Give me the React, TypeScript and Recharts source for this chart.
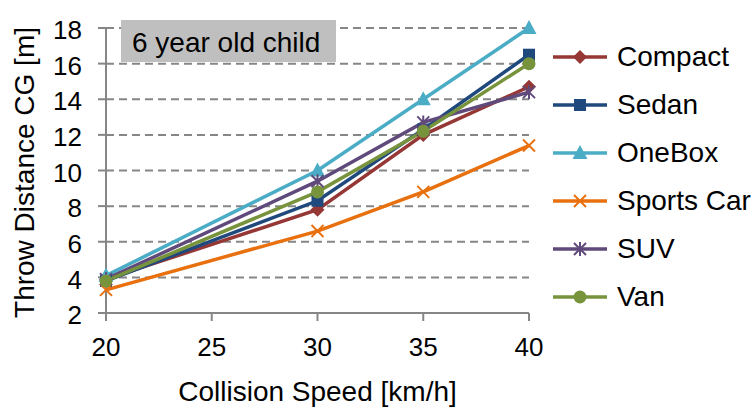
import React from 'react';
import { LineChart, Line, XAxis, YAxis, CartesianGrid } from 'recharts';

// Collision speeds (km/h) at which throw distances were measured
const speeds = [20, 30, 35, 40];

// Throw distance of the centre of gravity (m) per vehicle type
const compact = [3.9, 7.8, 12.0, 14.7];
const sedan = [3.8, 8.3, 12.3, 16.5];
const oneBox = [4.1, 10.0, 14.0, 18.0];
const sportsCar = [3.3, 6.6, 8.8, 11.4];
const suv = [3.9, 9.4, 12.7, 14.4];
const van = [3.8, 8.8, 12.2, 16.0];

const xTicks = [20, 25, 30, 35, 40];
const yTicks = [2, 4, 6, 8, 10, 12, 14, 16, 18];

type Shape = 'diamond' | 'square' | 'triangle' | 'x' | 'star' | 'circle';

const series: { key: string; name: string; values: number[]; color: string; shape: Shape }[] = [
  { key: 'compact', name: 'Compact', values: compact, color: '#953735', shape: 'diamond' },
  { key: 'sedan', name: 'Sedan', values: sedan, color: '#1F497D', shape: 'square' },
  { key: 'oneBox', name: 'OneBox', values: oneBox, color: '#4BACC6', shape: 'triangle' },
  { key: 'sportsCar', name: 'Sports Car', values: sportsCar, color: '#E8700F', shape: 'x' },
  { key: 'suv', name: 'SUV', values: suv, color: '#604A7B', shape: 'star' },
  { key: 'van', name: 'Van', values: van, color: '#77933C', shape: 'circle' },
];

const rows = speeds.map((speed, i) => {
  const row: Record<string, number> = { speed };
  series.forEach((s) => {
    row[s.key] = s.values[i];
  });
  return row;
});

const FONT = '"Liberation Sans", Arial, sans-serif';
const AXIS = '#868686';

function Marker({ cx, cy, color, shape }: { cx: number; cy: number; color: string; shape: Shape }) {
  switch (shape) {
    case 'diamond':
      return <polygon points={`${cx},${cy - 7} ${cx + 7},${cy} ${cx},${cy + 7} ${cx - 7},${cy}`} fill={color} />;
    case 'square':
      return <rect x={cx - 6} y={cy - 6} width={12} height={12} fill={color} />;
    case 'triangle':
      return <polygon points={`${cx},${cy - 8} ${cx + 7.5},${cy + 6} ${cx - 7.5},${cy + 6}`} fill={color} />;
    case 'x':
      return (
        <path
          d={`M${cx - 6},${cy - 6}L${cx + 6},${cy + 6}M${cx + 6},${cy - 6}L${cx - 6},${cy + 6}`}
          stroke={color}
          strokeWidth={2}
          fill="none"
        />
      );
    case 'star':
      return (
        <path
          d={`M${cx - 6},${cy - 6}L${cx + 6},${cy + 6}M${cx + 6},${cy - 6}L${cx - 6},${cy + 6}M${cx},${cy - 7}L${cx},${cy + 7}`}
          stroke={color}
          strokeWidth={2}
          fill="none"
        />
      );
    default:
      return <circle cx={cx} cy={cy} r={6.5} fill={color} />;
  }
}

function LegendBox() {
  return (
    <div style={{ position: 'absolute', left: 553, top: 33, fontFamily: FONT, fontSize: 28 }}>
      {series.map((s) => (
        <div key={s.key} style={{ display: 'flex', alignItems: 'center', height: 48 }}>
          <svg width={54} height={24} style={{ display: 'block' }}>
            <line x1={0} y1={12} x2={54} y2={12} stroke={s.color} strokeWidth={3.5} />
            <Marker cx={27} cy={12} color={s.color} shape={s.shape} />
          </svg>
          <span style={{ marginLeft: 10, color: '#000', whiteSpace: 'nowrap' }}>{s.name}</span>
        </div>
      ))}
    </div>
  );
}

export default function App() {
  return (
    <div style={{ position: 'absolute', left: 0, top: 0, width: 753, height: 409, background: '#fff' }}>
      <LineChart width={753} height={409} data={rows} margin={{ top: 28, right: 224, bottom: 0, left: 0 }}>
        <CartesianGrid vertical={false} stroke={AXIS} strokeWidth={2} strokeDasharray="8 5" />
        <XAxis
          dataKey="speed"
          type="number"
          domain={[20, 40]}
          ticks={xTicks}
          height={96}
          stroke={AXIS}
          strokeWidth={2}
          tickSize={8}
          tickMargin={17}
          tick={{ fill: '#000', fontSize: 26, fontFamily: FONT }}
          label={{
            value: 'Collision Speed [km/h]',
            position: 'insideBottom',
            offset: 8,
            fill: '#000',
            fontSize: 28,
            fontFamily: FONT,
          }}
        />
        <YAxis
          type="number"
          domain={[2, 18]}
          ticks={yTicks}
          width={106}
          stroke={AXIS}
          strokeWidth={2}
          tickSize={8}
          tickMargin={16}
          tick={{ fill: '#000', fontSize: 26, fontFamily: FONT, dy: 2 }}
          label={{
            value: 'Throw Distance CG [m]',
            angle: -90,
            position: 'center',
            dx: -29,
            dy: 2,
            fill: '#000',
            fontSize: 28,
            fontFamily: FONT,
          }}
        />
        {series.map((s) => (
          <Line
            key={s.key}
            dataKey={s.key}
            name={s.name}
            stroke={s.color}
            strokeWidth={3.5}
            isAnimationActive={false}
            dot={(p: any) => (
              <Marker key={`${s.key}-${p.index}`} cx={p.cx} cy={p.cy} color={s.color} shape={s.shape} />
            )}
            activeDot={false}
          />
        ))}
      </LineChart>
      <div
        style={{
          position: 'absolute',
          left: 121,
          top: 20,
          width: 215,
          height: 42,
          background: '#BFBFBF',
          fontFamily: FONT,
          fontSize: 28,
          lineHeight: '42px',
          paddingLeft: 11,
          paddingTop: 2,
          boxSizing: 'border-box',
          color: '#000',
          whiteSpace: 'nowrap',
        }}
      >
        6 year old child
      </div>
      <LegendBox />
    </div>
  );
}
